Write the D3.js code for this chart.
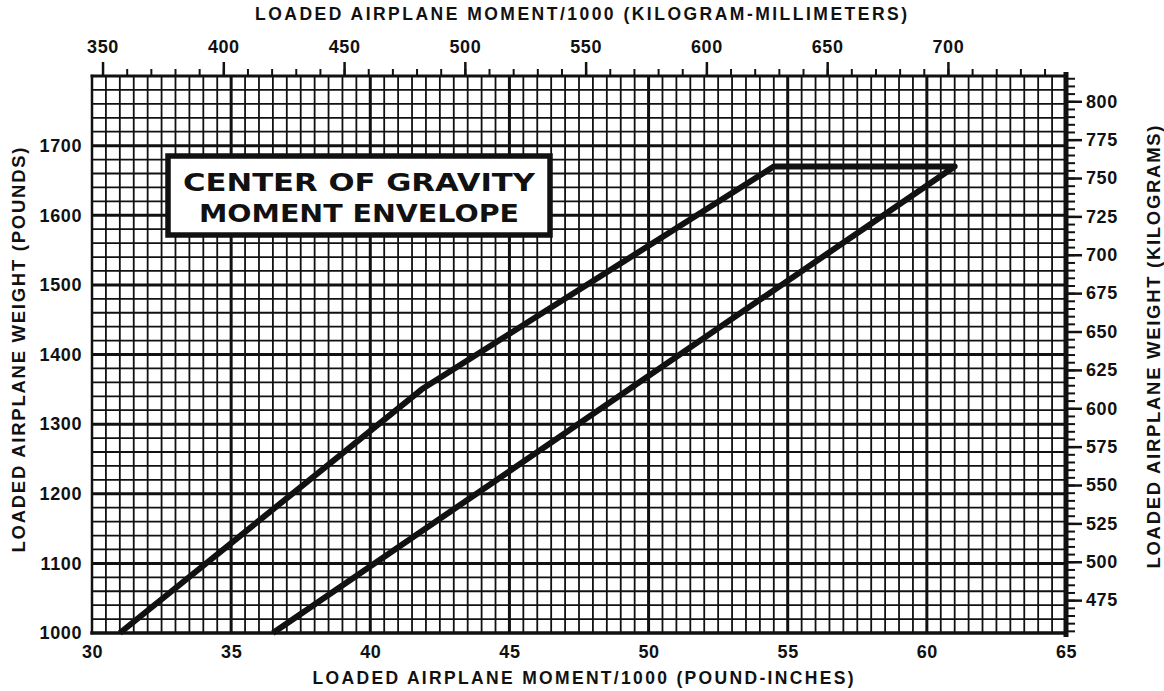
<!DOCTYPE html>
<html>
<head>
<meta charset="utf-8">
<script src="https://cdn.jsdelivr.net/npm/d3@7"></script>
<style>
  body { margin: 0; background: #fff; }
  svg { display: block; }
  text { font-family: "Liberation Sans", Arial, sans-serif; fill: #111; }
</style>
</head>
<body>
<div id="chart"></div>
<script>
// envelope corners: moment/1000 (lb-in) and weight (lb)
const envMoment = [31.0, 41.85, 54.5, 61.0, 36.5];
const envWeight = [1000, 1350, 1670, 1670, 1000];

// tick labels
const momentTicks = [30, 35, 40, 45, 50, 55, 60, 65];
const weightTicks = [1000, 1100, 1200, 1300, 1400, 1500, 1600, 1700];
const kgmmTicks = [350, 400, 450, 500, 550, 600, 650, 700];
const kgTicks = [475, 500, 525, 550, 575, 600, 625, 650, 675, 700, 725, 750, 775, 800];

const titleLines = ["CENTER OF GRAVITY", "MOMENT ENVELOPE"];

const width = 1164, height = 691;
const plot = { left: 92, right: 1066, top: 76, bottom: 633 };
const ink = "#111";

// unit conversions for the secondary axes
const LBIN_TO_KGMM = 0.45359237 * 25.4;
const LB_TO_KG = 0.45359237;

const x = d3.scaleLinear().domain([30, 65]).range([plot.left, plot.right]);
const y = d3.scaleLinear().domain([1000, 1800]).range([plot.bottom, plot.top]);
const xKgmm = d3.scaleLinear()
  .domain(x.domain().map(d => d * LBIN_TO_KGMM))
  .range(x.range());
const yKg = d3.scaleLinear()
  .domain(y.domain().map(d => d * LB_TO_KG))
  .range(y.range());

const svg = d3.select("#chart").append("svg")
  .attr("width", width)
  .attr("height", height);

svg.append("rect").attr("width", width).attr("height", height).attr("fill", "#fff");

// grid: fine lines every 0.5 (moment) and 20 lb, heavy every 5 and 100 lb
const grid = svg.append("g").attr("stroke", ink);
const xMinor = d3.range(61, 130).map(d => d / 2);
const yMinor = d3.range(1020, 1800, 20);

grid.selectAll(".vx")
  .data(xMinor)
  .enter().append("line")
    .attr("x1", d => x(d)).attr("x2", d => x(d))
    .attr("y1", plot.top).attr("y2", plot.bottom)
    .attr("stroke-width", d => d % 5 === 0 ? 3 : 1.8);

grid.selectAll(".hy")
  .data(yMinor)
  .enter().append("line")
    .attr("x1", plot.left).attr("x2", plot.right)
    .attr("y1", d => y(d)).attr("y2", d => y(d))
    .attr("stroke-width", d => d % 100 === 0 ? 3 : 1.8);

// frame, each side a bit different like the printed chart
const frame = [
  { x1: plot.left, y1: plot.top, x2: plot.right, y2: plot.top, w: 3 },
  { x1: plot.left, y1: plot.bottom, x2: plot.right, y2: plot.bottom, w: 3.5 },
  { x1: plot.left, y1: plot.top, x2: plot.left, y2: plot.bottom, w: 2.5 },
  { x1: plot.right, y1: plot.top - 1.5, x2: plot.right, y2: plot.bottom + 1.5, w: 5 }
];
svg.append("g").selectAll("line")
  .data(frame)
  .enter().append("line")
    .attr("x1", d => d.x1).attr("y1", d => d.y1)
    .attr("x2", d => d.x2).attr("y2", d => d.y2)
    .attr("stroke", ink)
    .attr("stroke-width", d => d.w)
    .attr("stroke-linecap", "square");

// envelope
const envelope = envMoment.map((m, i) => [m, envWeight[i]]);
svg.append("path")
  .datum(envelope)
  .attr("fill", "none")
  .attr("stroke", ink)
  .attr("stroke-width", 6)
  .attr("stroke-linejoin", "round")
  .attr("d", d3.line().x(d => x(d[0])).y(d => y(d[1])));

// title box
const box = { x: 168, y: 156, w: 382, h: 79 };
svg.append("rect")
  .attr("x", box.x).attr("y", box.y)
  .attr("width", box.w).attr("height", box.h)
  .attr("fill", "#fff")
  .attr("stroke", ink)
  .attr("stroke-width", 5.5);

svg.append("g").selectAll("text")
  .data(titleLines)
  .enter().append("text")
    .attr("x", box.x + box.w / 2)
    .attr("y", (d, i) => 191 + i * 31)
    .attr("text-anchor", "middle")
    .attr("font-size", 25)
    .attr("font-weight", "bold")
    .style("font-family", "'DejaVu Sans', sans-serif")
    .attr("textLength", (d, i) => i === 0 ? 352 : 320)
    .attr("lengthAdjust", "spacingAndGlyphs")
    .text(d => d);

function styleAxis(g, size) {
  g.attr("font-family", null).attr("font-size", null);
  g.select(".domain").remove();
  g.selectAll("line").attr("stroke", ink);
  g.selectAll("text")
    .attr("font-size", size)
    .attr("font-weight", "bold")
    .style("letter-spacing", "0.6px")
    .attr("fill", ink);
}

// top axis (kg-mm)
svg.append("g")
  .attr("transform", `translate(0,${plot.top})`)
  .call(d3.axisTop(xKgmm).tickValues(d3.range(360, 741, 10)).tickSize(7).tickFormat(""))
  .call(g => { styleAxis(g, 18); g.selectAll("line").attr("stroke-width", 2); });

svg.append("g")
  .attr("transform", `translate(0,${plot.top})`)
  .call(d3.axisTop(xKgmm).tickValues(kgmmTicks).tickSize(14).tickPadding(9))
  .call(g => { styleAxis(g, 18); g.selectAll("line").attr("stroke-width", 2.5); });

// right axis (kg)
svg.append("g")
  .attr("transform", `translate(${plot.right},0)`)
  .call(d3.axisRight(yKg).tickValues(d3.range(455, 816, 5)).tickSize(9).tickFormat(""))
  .call(g => { styleAxis(g, 18); g.selectAll("line").attr("stroke-width", 2); });

svg.append("g")
  .attr("transform", `translate(${plot.right},0)`)
  .call(d3.axisRight(yKg).tickValues(kgTicks).tickSize(16).tickPadding(4))
  .call(g => { styleAxis(g, 18); g.selectAll("line").attr("stroke-width", 2.5); });

// bottom axis (lb-in), labels only
svg.append("g")
  .attr("transform", `translate(0,${plot.bottom})`)
  .call(d3.axisBottom(x).tickValues(momentTicks).tickSize(0).tickPadding(12))
  .call(g => styleAxis(g, 18));

// left axis (lb), labels only
svg.append("g")
  .attr("transform", `translate(${plot.left},0)`)
  .call(d3.axisLeft(y).tickValues(weightTicks).tickFormat(d3.format("d")).tickSize(0).tickPadding(10))
  .call(g => styleAxis(g, 18));

// axis titles
const titles = [
  { text: "LOADED AIRPLANE MOMENT/1000 (KILOGRAM-MILLIMETERS)", x: 581, y: 20, rot: 0, len: 652, size: 17.5 },
  { text: "LOADED AIRPLANE MOMENT/1000 (POUND-INCHES)", x: 583, y: 684, rot: 0, len: 541, size: 17.5 },
  { text: "LOADED AIRPLANE WEIGHT (POUNDS)", x: 25, y: 350, rot: -90, len: 405, size: 18.5 },
  { text: "LOADED AIRPLANE WEIGHT (KILOGRAMS)", x: 1160, y: 347, rot: -90, len: 443, size: 18.5 }
];
svg.append("g").selectAll("text")
  .data(titles)
  .enter().append("text")
    .attr("transform", d => `translate(${d.x},${d.y}) rotate(${d.rot})`)
    .attr("text-anchor", "middle")
    .attr("font-size", d => d.size)
    .attr("font-weight", "bold")
    .attr("textLength", d => d.len)
    .attr("lengthAdjust", "spacing")
    .text(d => d.text);
</script>
</body>
</html>
